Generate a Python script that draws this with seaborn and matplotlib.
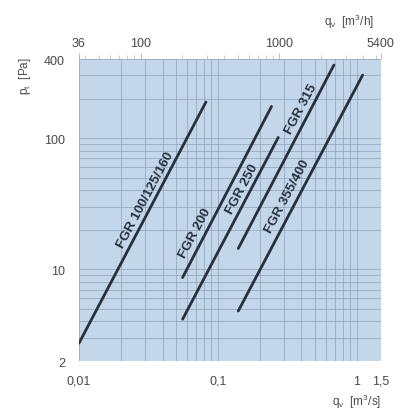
import numpy as np
import pandas as pd
import matplotlib
matplotlib.use("Agg")
import matplotlib.pyplot as plt
import seaborn as sns
from matplotlib.ticker import FixedLocator, LogLocator, NullFormatter

# ---- data ----
series = ["FGR 100/125/160", "FGR 200", "FGR 250", "FGR 315", "FGR 355/400"]
qv_start = [0.01, 0.0558, 0.0558, 0.1406, 0.1406]   # m3/s
qv_end = [0.0822, 0.244, 0.273, 0.687, 1.107]
pt_start = [2.73, 8.65, 4.16, 14.4, 4.81]           # Pa
pt_end = [188, 174, 101, 360, 302]

x_ticks = [0.01, 0.1, 1, 1.5]
x_ticklabels = ["0,01", "0,1", "1", "1,5"]
y_ticks = [2, 10, 100, 400]
y_ticklabels = ["2", "10", "100", "400"]
top_ticks = [36, 100, 1000, 5400]   # m3/h
top_ticklabels = ["36", "100", "1000", "5400"]

rows = []
for s, x0, x1, y0, y1 in zip(series, qv_start, qv_end, pt_start, pt_end):
    rows.append({"series": s, "qv": x0, "pt": y0})
    rows.append({"series": s, "qv": x1, "pt": y1})
df = pd.DataFrame(rows)

sns.set_style("white")
plt.rcParams["font.family"] = ["Liberation Sans", "DejaVu Sans"]

fig = plt.figure(figsize=(4.07, 4.14), dpi=100)
ax = fig.add_axes([0.194, 0.1256, 0.742, 0.7294])
ax.set_facecolor("#c3d6ea")

ax.set_xscale("log")
ax.set_yscale("log")
ax.set_xlim(0.01, 1.5)
ax.set_ylim(2, 400)

sns.lineplot(data=df, x="qv", y="pt", units="series", estimator=None,
             color="#27303d", lw=2.0, ax=ax, legend=False, sort=False)

grid_c = "#8ea3ba"
ax.xaxis.set_minor_locator(LogLocator(base=10, subs=np.arange(2, 10)))
ax.yaxis.set_minor_locator(LogLocator(base=10, subs=np.arange(2, 10)))
ax.grid(True, which="both", color=grid_c, lw=0.6, alpha=0.85)
ax.set_axisbelow(True)

ax.xaxis.set_major_locator(FixedLocator(x_ticks))
ax.set_xticklabels(x_ticklabels)
ax.xaxis.set_minor_formatter(NullFormatter())
ax.yaxis.set_major_locator(FixedLocator(y_ticks))
ax.set_yticklabels(y_ticklabels)
ax.yaxis.set_minor_formatter(NullFormatter())
ax.tick_params(axis="both", which="major", labelsize=9, labelcolor="#4a4a4a",
               length=5, color="#aaaaaa", width=0.6, pad=5)
ax.tick_params(axis="both", which="minor", length=0)
for sp in ax.spines.values():
    sp.set_visible(False)

# secondary top axis in m3/h
sec = ax.secondary_xaxis("top", functions=(lambda v: v * 3600, lambda v: v / 3600))
sec.set_xscale("log")
sec.xaxis.set_major_locator(FixedLocator(top_ticks))
sec.set_xticklabels(top_ticklabels)
sec.xaxis.set_minor_locator(FixedLocator([40, 50, 60, 70, 80, 90, 200, 300, 400, 500,
                                          600, 700, 800, 900, 2000, 3000, 4000, 5000]))
sec.xaxis.set_minor_formatter(NullFormatter())
sec.tick_params(axis="x", which="major", labelsize=9, labelcolor="#4a4a4a",
                length=4, color="#b0b0b0", width=0.6)
sec.tick_params(axis="x", which="minor", length=3, color="#b5b5b5", width=0.5)
for sp in sec.spines.values():
    sp.set_visible(False)

# series labels placed just above-left of each line
label_x = [0.0299, 0.0686, 0.149, 0.397, 0.316]
label_y = [34.2, 19.1, 41.5, 169, 36]
for x, y, t in zip(label_x, label_y, series):
    ax.text(x, y, t, rotation=62, rotation_mode="anchor", ha="center", va="center",
            fontsize=9.7, fontweight="bold", color="#27303d")

# axis titles
fig.text(0.857, 0.947, r"q$_\mathregular{v}$  [m$^\mathregular{3}$/h]", ha="center", va="center",
         fontsize=8.5, color="#4a4a4a")
fig.text(0.877, 0.03, r"q$_\mathregular{v}$  [m$^\mathregular{3}$/s]", ha="center", va="center",
         fontsize=8.5, color="#4a4a4a")
fig.text(0.061, 0.816, r"p$_\mathregular{t}$  [Pa]", rotation=90, ha="center", va="center",
         fontsize=8.5, color="#4a4a4a")
ax.set_xlabel("")
ax.set_ylabel("")

fig.savefig("out.png", dpi=100)
